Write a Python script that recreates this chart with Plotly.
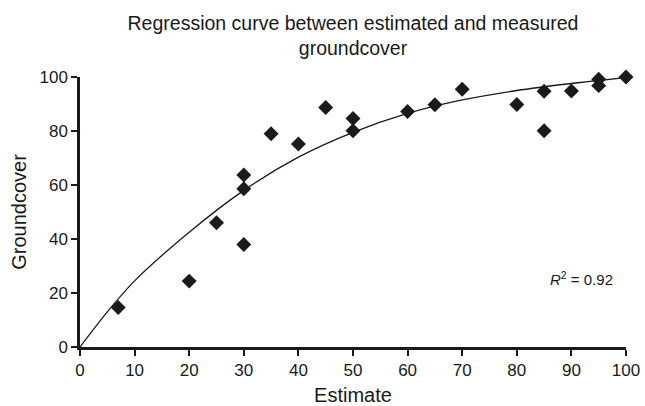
import plotly.graph_objects as go

# Measured points
estimate = [7, 20, 25, 30, 30, 30, 35, 40, 45, 50, 50, 60, 65, 70, 80, 85, 85, 90, 95, 95, 100]
groundcover = [14.6, 24.4, 46, 63.7, 58.6, 38, 79, 75.2, 88.7, 84.6, 80.1, 87.2, 89.7, 95.5, 89.8, 94.7, 80.1, 94.8, 99.2, 96.8, 100]

# Regression curve
curve_x = [0, 5, 10, 20, 30, 40, 50, 60, 70, 80, 90, 100]
curve_y = [0, 13, 24.5, 42.5, 58, 70.3, 79.5, 86.5, 91.5, 95, 97.6, 99.8]

x_ticks = list(range(0, 101, 10))
y_ticks = list(range(0, 101, 20))

FONT = "Liberation Sans, Arial, sans-serif"

fig = go.Figure()
fig.add_trace(go.Scatter(x=curve_x, y=curve_y, mode="lines",
                         line=dict(color="#1a1a1a", width=1.3, shape="spline", smoothing=0.8),
                         hoverinfo="skip", showlegend=False, cliponaxis=False))
fig.add_trace(go.Scatter(x=estimate, y=groundcover, mode="markers",
                         marker=dict(symbol="diamond", size=11.5, color="#1a1a1a"),
                         showlegend=False, cliponaxis=False))

fig.add_annotation(x=91.8, y=25.5, xref="x", yref="y", showarrow=False,
                   text="<i>R</i><sup>2</sup> = 0.92",
                   font=dict(size=15, color="#1a1a1a", family=FONT))

fig.update_layout(
    width=645, height=406,
    margin=dict(l=80, r=19, t=77, b=59),
    paper_bgcolor="white", plot_bgcolor="white",
    font=dict(family=FONT, color="#1a1a1a"),
    title=dict(text="Regression curve between estimated and measured<br>groundcover",
               x=353 / 645, xanchor="center", yref="container", y=1 - 30 / 406, yanchor="top",
               font=dict(size=19.5, color="#1a1a1a")),
    xaxis=dict(range=[0, 100], tickvals=x_ticks, ticks="outside", ticklen=6, tickwidth=2,
               tickcolor="#1a1a1a", showline=True, linewidth=2.5, linecolor="#1a1a1a",
               showgrid=False, zeroline=False, tickfont=dict(size=17), automargin=False,
               title=dict(text="Estimate", font=dict(size=20), standoff=10)),
    yaxis=dict(range=[0, 100], tickvals=y_ticks, ticks="outside", ticklen=6, tickwidth=2,
               tickcolor="#1a1a1a", showline=True, linewidth=2.5, linecolor="#1a1a1a",
               showgrid=False, zeroline=False, tickfont=dict(size=17), automargin=False,
               title=dict(text="Groundcover", font=dict(size=20), standoff=8)),
)

fig.write_html("out.html", config={"displayModeBar": False},
               post_script="document.body.style.margin='0';")
